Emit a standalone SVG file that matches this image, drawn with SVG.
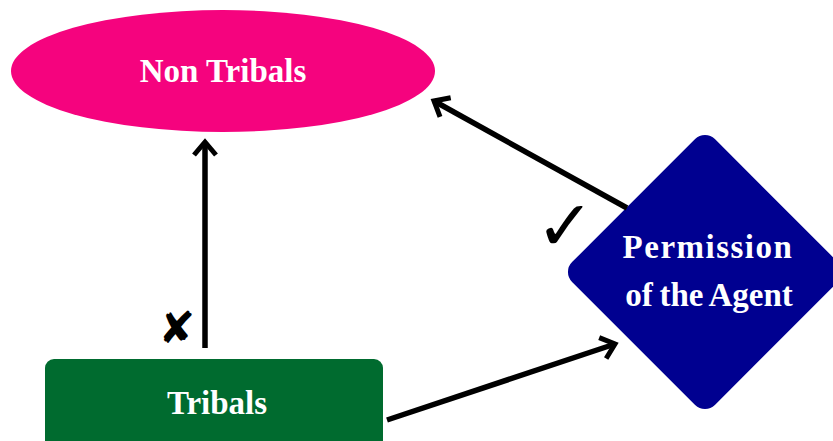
<svg xmlns="http://www.w3.org/2000/svg" width="833" height="441" viewBox="0 0 833 441">
<style>
.lbl{font-family:"Liberation Serif","Times New Roman",serif;font-weight:bold;fill:#ffffff;text-anchor:middle;font-size:33px}
.conn{stroke:#000;stroke-width:5.5;fill:none}
.mark{font-family:"DejaVu Sans",sans-serif;fill:#000;text-anchor:middle}
</style>
<defs>
<marker id="arr" markerUnits="userSpaceOnUse" markerWidth="30" markerHeight="30" viewBox="-20 -15 30 30" refX="0" refY="0" orient="auto">
<path d="M -13 -11 L 0 0 L -13 11" stroke="#000" stroke-width="5" fill="none" stroke-linejoin="miter"/>
</marker>
</defs>
<g id="non-tribals">
<ellipse cx="223" cy="71" rx="212" ry="61" fill="#F5037E"/>
<text class="lbl" x="223" y="82" font-size="34">Non Tribals</text>
</g>
<g id="permission">
<rect x="604" y="171" width="202" height="202" rx="14" fill="#000090" transform="rotate(45 705 272)"/>
<text class="lbl" x="708" y="258" letter-spacing="1.5">Permission</text>
<text class="lbl" x="709" y="306" word-spacing="-1.5">of the Agent</text>
</g>
<g id="tribals">
<rect x="45" y="359" width="338" height="100" rx="9" fill="#006B2F"/>
<text class="lbl" x="217" y="414">Tribals</text>
</g>
<g id="connectors">
<line class="conn" x1="205" y1="348" x2="205" y2="142" marker-end="url(#arr)"/>
<line class="conn" x1="627" y1="208" x2="434" y2="101" marker-end="url(#arr)"/>
<line class="conn" x1="387" y1="420" x2="615" y2="344" marker-end="url(#arr)"/>
</g>
<text class="mark" x="177" y="343" font-size="44" font-weight="bold">✘</text>
<text class="mark" x="565" y="250" font-size="70">✓</text>
</svg>
